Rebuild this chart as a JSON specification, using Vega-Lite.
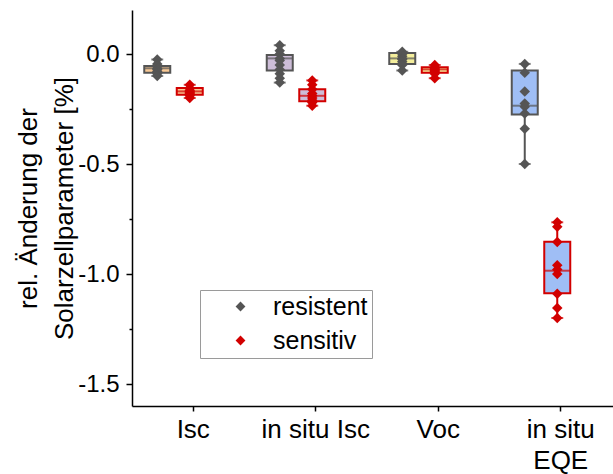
{
  "$schema": "https://vega.github.io/schema/vega-lite/v6.json",
  "width": 481,
  "height": 396,
  "autosize": {"type": "none"},
  "padding": {"left": 132, "top": 10, "right": 0, "bottom": 68},
  "config": {
    "font": "Liberation Sans",
    "view": {"stroke": null},
    "axis": {"domainColor": "black", "domainWidth": 1.5, "tickColor": "black", "tickWidth": 1.5, "labelColor": "black", "titleColor": "black", "grid": false},
    "legend": {"orient": "none", "legendX": 68, "legendY": 280}
  },
  "datasets": {
    "boxen": [
      {"kategorie": "Isc", "gruppe": "resistent", "min": -0.1, "q1": -0.085, "median": -0.065, "q3": -0.055, "max": -0.025},
      {"kategorie": "Isc", "gruppe": "sensitiv", "min": -0.2, "q1": -0.185, "median": -0.17, "q3": -0.155, "max": -0.14},
      {"kategorie": "in situ Isc", "gruppe": "resistent", "min": -0.13, "q1": -0.075, "median": -0.02, "q3": -0.005, "max": 0.04},
      {"kategorie": "in situ Isc", "gruppe": "sensitiv", "min": -0.235, "q1": -0.215, "median": -0.19, "q3": -0.16, "max": -0.12},
      {"kategorie": "Voc", "gruppe": "resistent", "min": -0.075, "q1": -0.045, "median": -0.02, "q3": 0.005, "max": 0.01},
      {"kategorie": "Voc", "gruppe": "sensitiv", "min": -0.11, "q1": -0.085, "median": -0.07, "q3": -0.06, "max": -0.05},
      {"kategorie": "in situ EQE", "gruppe": "resistent", "min": -0.5, "q1": -0.275, "median": -0.235, "q3": -0.075, "max": -0.045},
      {"kategorie": "in situ EQE", "gruppe": "sensitiv", "min": -1.2, "q1": -1.087, "median": -0.985, "q3": -0.853, "max": -0.765}
    ],
    "punkte": [
      {"kategorie": "Isc", "gruppe": "resistent", "wert": -0.025},
      {"kategorie": "Isc", "gruppe": "resistent", "wert": -0.045},
      {"kategorie": "Isc", "gruppe": "resistent", "wert": -0.055},
      {"kategorie": "Isc", "gruppe": "resistent", "wert": -0.065},
      {"kategorie": "Isc", "gruppe": "resistent", "wert": -0.07},
      {"kategorie": "Isc", "gruppe": "resistent", "wert": -0.08},
      {"kategorie": "Isc", "gruppe": "resistent", "wert": -0.09},
      {"kategorie": "Isc", "gruppe": "resistent", "wert": -0.1},
      {"kategorie": "Isc", "gruppe": "sensitiv", "wert": -0.14},
      {"kategorie": "Isc", "gruppe": "sensitiv", "wert": -0.155},
      {"kategorie": "Isc", "gruppe": "sensitiv", "wert": -0.165},
      {"kategorie": "Isc", "gruppe": "sensitiv", "wert": -0.17},
      {"kategorie": "Isc", "gruppe": "sensitiv", "wert": -0.175},
      {"kategorie": "Isc", "gruppe": "sensitiv", "wert": -0.18},
      {"kategorie": "Isc", "gruppe": "sensitiv", "wert": -0.19},
      {"kategorie": "Isc", "gruppe": "sensitiv", "wert": -0.2},
      {"kategorie": "in situ Isc", "gruppe": "resistent", "wert": 0.04},
      {"kategorie": "in situ Isc", "gruppe": "resistent", "wert": 0.015},
      {"kategorie": "in situ Isc", "gruppe": "resistent", "wert": 0.0},
      {"kategorie": "in situ Isc", "gruppe": "resistent", "wert": -0.02},
      {"kategorie": "in situ Isc", "gruppe": "resistent", "wert": -0.03},
      {"kategorie": "in situ Isc", "gruppe": "resistent", "wert": -0.05},
      {"kategorie": "in situ Isc", "gruppe": "resistent", "wert": -0.07},
      {"kategorie": "in situ Isc", "gruppe": "resistent", "wert": -0.09},
      {"kategorie": "in situ Isc", "gruppe": "resistent", "wert": -0.11},
      {"kategorie": "in situ Isc", "gruppe": "resistent", "wert": -0.13},
      {"kategorie": "in situ Isc", "gruppe": "sensitiv", "wert": -0.12},
      {"kategorie": "in situ Isc", "gruppe": "sensitiv", "wert": -0.14},
      {"kategorie": "in situ Isc", "gruppe": "sensitiv", "wert": -0.16},
      {"kategorie": "in situ Isc", "gruppe": "sensitiv", "wert": -0.18},
      {"kategorie": "in situ Isc", "gruppe": "sensitiv", "wert": -0.19},
      {"kategorie": "in situ Isc", "gruppe": "sensitiv", "wert": -0.2},
      {"kategorie": "in situ Isc", "gruppe": "sensitiv", "wert": -0.21},
      {"kategorie": "in situ Isc", "gruppe": "sensitiv", "wert": -0.22},
      {"kategorie": "in situ Isc", "gruppe": "sensitiv", "wert": -0.235},
      {"kategorie": "Voc", "gruppe": "resistent", "wert": 0.01},
      {"kategorie": "Voc", "gruppe": "resistent", "wert": 0.0},
      {"kategorie": "Voc", "gruppe": "resistent", "wert": -0.01},
      {"kategorie": "Voc", "gruppe": "resistent", "wert": -0.02},
      {"kategorie": "Voc", "gruppe": "resistent", "wert": -0.025},
      {"kategorie": "Voc", "gruppe": "resistent", "wert": -0.035},
      {"kategorie": "Voc", "gruppe": "resistent", "wert": -0.05},
      {"kategorie": "Voc", "gruppe": "resistent", "wert": -0.075},
      {"kategorie": "Voc", "gruppe": "sensitiv", "wert": -0.05},
      {"kategorie": "Voc", "gruppe": "sensitiv", "wert": -0.06},
      {"kategorie": "Voc", "gruppe": "sensitiv", "wert": -0.065},
      {"kategorie": "Voc", "gruppe": "sensitiv", "wert": -0.07},
      {"kategorie": "Voc", "gruppe": "sensitiv", "wert": -0.075},
      {"kategorie": "Voc", "gruppe": "sensitiv", "wert": -0.08},
      {"kategorie": "Voc", "gruppe": "sensitiv", "wert": -0.09},
      {"kategorie": "Voc", "gruppe": "sensitiv", "wert": -0.11},
      {"kategorie": "in situ EQE", "gruppe": "resistent", "wert": -0.045},
      {"kategorie": "in situ EQE", "gruppe": "resistent", "wert": -0.085},
      {"kategorie": "in situ EQE", "gruppe": "resistent", "wert": -0.17},
      {"kategorie": "in situ EQE", "gruppe": "resistent", "wert": -0.225},
      {"kategorie": "in situ EQE", "gruppe": "resistent", "wert": -0.24},
      {"kategorie": "in situ EQE", "gruppe": "resistent", "wert": -0.27},
      {"kategorie": "in situ EQE", "gruppe": "resistent", "wert": -0.34},
      {"kategorie": "in situ EQE", "gruppe": "resistent", "wert": -0.5},
      {"kategorie": "in situ EQE", "gruppe": "sensitiv", "wert": -0.765},
      {"kategorie": "in situ EQE", "gruppe": "sensitiv", "wert": -0.785},
      {"kategorie": "in situ EQE", "gruppe": "sensitiv", "wert": -0.855},
      {"kategorie": "in situ EQE", "gruppe": "sensitiv", "wert": -0.96},
      {"kategorie": "in situ EQE", "gruppe": "sensitiv", "wert": -0.98},
      {"kategorie": "in situ EQE", "gruppe": "sensitiv", "wert": -1.0},
      {"kategorie": "in situ EQE", "gruppe": "sensitiv", "wert": -1.09},
      {"kategorie": "in situ EQE", "gruppe": "sensitiv", "wert": -1.155},
      {"kategorie": "in situ EQE", "gruppe": "sensitiv", "wert": -1.2}
    ]
  },
  "encoding": {
    "x": {
      "field": "kategorie",
      "type": "nominal",
      "scale": {"domain": ["Isc", "in situ Isc", "Voc", "in situ EQE"], "range": [0, 490], "paddingInner": 0, "paddingOuter": 0},
      "axis": {
        "title": null,
        "labelAngle": 0,
        "labelFontSize": 26,
        "labelPadding": 5,
        "labelLineHeight": 31,
        "tickSize": 5,
        "labelExpr": "datum.label == 'in situ EQE' ? ['in situ', 'EQE'] : datum.label"
      }
    },
    "xOffset": {
      "field": "gruppe",
      "type": "nominal",
      "scale": {"domain": ["resistent", "sensitiv"], "range": [9, 74], "paddingInner": 0, "paddingOuter": 0}
    }
  },
  "layer": [
    {
      "data": {"name": "boxen"},
      "mark": {"type": "rule", "strokeWidth": 2},
      "encoding": {
        "y": {
          "field": "min",
          "type": "quantitative",
          "scale": {"domain": [-1.6, 0.2], "nice": false, "zero": false},
          "axis": {
            "title": ["rel. Änderung der", "Solarzellparameter [%]"],
            "titleFontSize": 26,
            "titleFontWeight": "normal",
            "titleLineHeight": 36,
            "titlePadding": 0,
            "labelFontSize": 24,
            "labelPadding": 7,
            "values": [0, -0.25, -0.5, -0.75, -1, -1.25, -1.5],
            "labelExpr": "abs(datum.value * 2 - round(datum.value * 2)) < 1e-6 ? replace(format(datum.value, '.1f'), '\u2212', '-') : ''",
            "tickSize": {"condition": {"test": "abs(datum.value * 2 - round(datum.value * 2)) < 1e-6", "value": 6}, "value": 3}
          }
        },
        "y2": {"field": "max"},
        "color": {"field": "gruppe", "type": "nominal", "scale": {"domain": ["resistent", "sensitiv"], "range": ["#555555", "#d20000"]}}
      }
    },
    {
      "data": {"name": "boxen"},
      "mark": {"type": "tick", "orient": "horizontal", "size": 12, "thickness": 2},
      "encoding": {
        "y": {"field": "min", "type": "quantitative"},
        "color": {"field": "gruppe", "type": "nominal"}
      }
    },
    {
      "data": {"name": "boxen"},
      "mark": {"type": "tick", "orient": "horizontal", "size": 12, "thickness": 2},
      "encoding": {
        "y": {"field": "max", "type": "quantitative"},
        "color": {"field": "gruppe", "type": "nominal"}
      }
    },
    {
      "data": {"name": "boxen"},
      "mark": {"type": "bar", "width": 26, "strokeWidth": 2, "filled": false},
      "encoding": {
        "y": {"field": "q1", "type": "quantitative"},
        "y2": {"field": "q3"},
        "fill": {"field": "kategorie", "type": "nominal", "scale": {"domain": ["Isc", "in situ Isc", "Voc", "in situ EQE"], "range": ["#f9c995", "#cdbdd8", "#f4ee9c", "#9fbef5"]}, "legend": null},
        "color": {"field": "gruppe", "type": "nominal"}
      }
    },
    {
      "data": {"name": "boxen"},
      "mark": {"type": "tick", "orient": "horizontal", "size": 26, "thickness": 2},
      "encoding": {
        "y": {"field": "median", "type": "quantitative"},
        "color": {"field": "gruppe", "type": "nominal"}
      }
    },
    {
      "data": {"name": "punkte"},
      "mark": {"type": "point", "shape": "diamond", "filled": true, "size": 110, "opacity": 1},
      "encoding": {
        "y": {"field": "wert", "type": "quantitative"},
        "color": {
          "field": "gruppe",
          "type": "nominal",
          "legend": {
            "title": null,
            "orient": "none",
            "legendX": 68,
            "legendY": 280,
            "labelFontSize": 25,
            "labelColor": "black",
            "symbolType": "diamond",
            "symbolSize": 60,
            "symbolOpacity": 1,
            "symbolOffset": 24,
            "labelOffset": 20,
            "rowPadding": 8,
            "padding": 4,
            "strokeColor": "#9a9a9a",
            "encode": {"symbols": {"update": {"opacity": {"value": 1}, "fillOpacity": {"value": 1}}}}
          }
        }
      }
    },
    {
      "mark": {"type": "rule", "color": "black", "strokeWidth": 1.5},
      "encoding": {"y": {"datum": 0.2}}
    }
  ]
}
